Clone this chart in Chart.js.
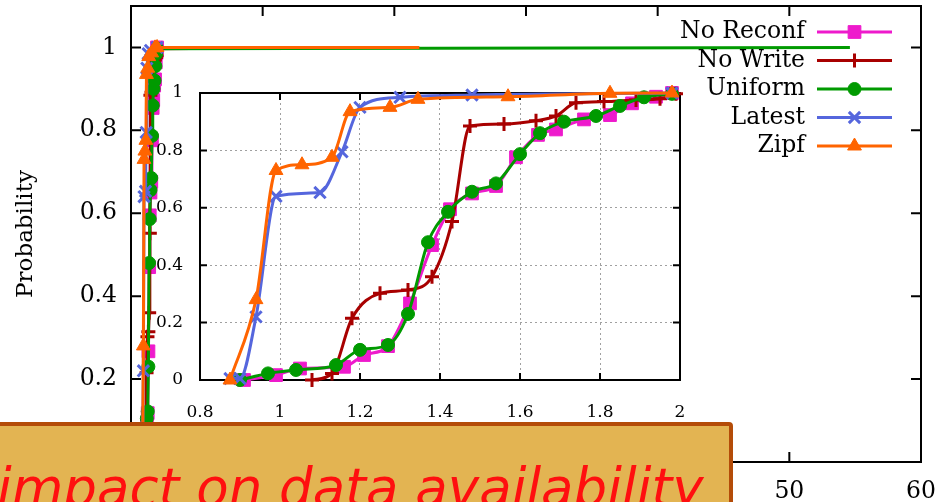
<!DOCTYPE html>
<html><head><meta charset="utf-8">
<script src="https://cdn.jsdelivr.net/npm/chart.js@4.4.0/dist/chart.umd.min.js"></script>
<style>
html,body{margin:0;padding:0;background:#fff;overflow:hidden;}
#wrap{position:relative;width:945px;height:502px;overflow:hidden;background:#fff;}
#main{position:absolute;left:0;top:0;}
#inset{position:absolute;left:140px;top:80px;}
#box{position:absolute;left:-8px;top:422px;width:741px;height:110px;box-sizing:border-box;border:4px solid #b44c08;border-radius:4px;background:#e3b452;}
#boxText{position:absolute;left:-3px;top:462px;font:italic 53px 'DejaVu Sans';line-height:52px;color:#ff0f0f;white-space:nowrap;}
</style>
</head><body>
<div id="wrap">
<canvas id="main" width="945" height="502"></canvas>
<canvas id="inset" width="560" height="350"></canvas>
<div id="box"></div>
<div id="boxText">impact on data availability</div>
</div>
<script>
// ---- data ----
const seriesNames = ['No Reconf', 'No Write', 'Uniform', 'Latest', 'Zipf'];

const noReconfX = [0.91, 0.99, 1.05, 1.16, 1.21, 1.27, 1.325, 1.38, 1.425, 1.48, 1.54, 1.59, 1.645, 1.69, 1.76, 1.825, 1.88, 1.94, 1.98];
const noReconfY = [0.0, 0.017, 0.04, 0.046, 0.087, 0.118, 0.267, 0.47, 0.595, 0.65, 0.676, 0.776, 0.854, 0.873, 0.908, 0.923, 0.964, 0.987, 1.0];

const noWriteX = [1.08, 1.13, 1.18, 1.25, 1.32, 1.38, 1.43, 1.475, 1.56, 1.64, 1.69, 1.74, 1.81, 1.89, 1.95, 1.99];
const noWriteY = [0.0, 0.023, 0.215, 0.302, 0.314, 0.36, 0.552, 0.885, 0.892, 0.903, 0.92, 0.966, 0.97, 0.976, 0.98, 0.997];

const uniformX = [0.90, 0.97, 1.04, 1.14, 1.20, 1.27, 1.32, 1.37, 1.42, 1.48, 1.54, 1.60, 1.65, 1.71, 1.79, 1.85, 1.91, 1.98];
const uniformY = [0.0, 0.023, 0.035, 0.052, 0.105, 0.122, 0.23, 0.48, 0.586, 0.656, 0.685, 0.787, 0.86, 0.9, 0.92, 0.955, 0.985, 0.997];

const latestX = [0.875, 0.90, 0.94, 0.99, 1.10, 1.155, 1.20, 1.30, 1.48, 1.98];
const latestY = [0.005, 0.005, 0.22, 0.64, 0.653, 0.795, 0.95, 0.985, 0.993, 1.0];

const zipfX = [0.875, 0.94, 0.99, 1.055, 1.13, 1.175, 1.275, 1.345, 1.57, 1.825, 1.98];
const zipfY = [0.0, 0.28, 0.73, 0.75, 0.776, 0.935, 0.95, 0.978, 0.987, 0.999, 1.0];

// where each CDF's tail (at probability 1) ends on the full-range plot
const tailEndX = [12, 15, 54.6, 10, 21.9];

// tick labels
const mainXTicks = [0, 10, 20, 30, 40, 50, 60];
const mainYTicks = [0, 0.2, 0.4, 0.6, 0.8, 1];
const insetXTicks = [0.8, 1, 1.2, 1.4, 1.6, 1.8, 2];
const insetYTicks = [0, 0.2, 0.4, 0.6, 0.8, 1];

// ---- styles ----
const colors = ['#ee1acc', '#a80000', '#009a00', '#5566dd', '#ff6400'];
const pStyles = ['rect', 'cross', 'circle', 'crossRot', 'triangle'];
const pRadius = [9, 7, 6.5, 8, 8];
const pBorder = [1, 3, 1, 3, 1];
const drawOrder = [5, 4, 3, 2, 1];

const allX = [noReconfX, noWriteX, uniformX, latestX, zipfX];
const allY = [noReconfY, noWriteY, uniformY, latestY, zipfY];

function pts(i, withTail) {
  const p = allX[i].map((x, k) => ({x: x, y: allY[i][k]}));
  if (withTail) p.push({x: tailEndX[i], y: 1});
  return p;
}

const serif = 'DejaVu Serif';

function noPad(s) {
  s.paddingTop = 0; s.paddingBottom = 0; s.paddingLeft = 0; s.paddingRight = 0;
}

const framePlugin = {
  id: 'frame',
  beforeDatasetsDraw(chart, args, opts) {
    const {ctx, chartArea: a} = chart;
    const xs = chart.scales.x, ys = chart.scales.y;
    ctx.save();
    ctx.strokeStyle = '#000';
    ctx.lineWidth = opts.lw;
    ctx.setLineDash([]);
    ctx.strokeRect(a.left, a.top, a.right - a.left, a.bottom - a.top);
    ctx.beginPath();
    xs.ticks.forEach(t => {
      const p = xs.getPixelForValue(t.value);
      ctx.moveTo(p, a.bottom); ctx.lineTo(p, a.bottom - opts.len);
      ctx.moveTo(p, a.top); ctx.lineTo(p, a.top + opts.len);
    });
    ys.ticks.forEach(t => {
      const p = ys.getPixelForValue(t.value);
      ctx.moveTo(a.left, p); ctx.lineTo(a.left + opts.len, p);
      ctx.moveTo(a.right, p); ctx.lineTo(a.right - opts.len, p);
    });
    ctx.stroke();
    ctx.restore();
  }
};

const legendPlugin = {
  id: 'keyBox',
  afterDraw(chart, args, opts) {
    const ctx = chart.ctx;
    ctx.save();
    ctx.font = opts.size + 'px "' + serif + '"';
    ctx.textAlign = 'right';
    ctx.textBaseline = 'middle';
    seriesNames.forEach((name, i) => {
      const y = opts.y0 + i * opts.dy;
      ctx.fillStyle = '#000';
      ctx.fillText(name, opts.textRight, y);
      ctx.strokeStyle = colors[i];
      ctx.lineWidth = 3;
      ctx.beginPath();
      ctx.moveTo(opts.l0, y); ctx.lineTo(opts.l1, y);
      ctx.stroke();
      ctx.fillStyle = colors[i];
      ctx.lineWidth = pBorder[i];
      Chart.helpers.drawPoint(ctx, {pointStyle: pStyles[i], radius: pRadius[i], rotation: 0, borderWidth: pBorder[i]}, (opts.l0 + opts.l1) / 2, y);
    });
    ctx.restore();
  }
};

function makeDatasets(withTail, smooth) {
  return seriesNames.map((name, i) => {
    const n = allX[i].length;
    return {
      label: name,
      data: pts(i, withTail),
      borderColor: colors[i],
      backgroundColor: colors[i],
      borderWidth: 3,
      pointStyle: pStyles[i],
      pointRadius: ctx => ctx.dataIndex < n ? pRadius[i] : 0,
      pointBorderWidth: pBorder[i],
      pointBorderColor: colors[i],
      pointBackgroundColor: colors[i],
      cubicInterpolationMode: smooth ? 'monotone' : 'default',
      tension: smooth ? 0.4 : 0,
      order: drawOrder[i],
      clip: false
    };
  });
}

// ---- main chart ----
new Chart(document.getElementById('main'), {
  type: 'line',
  data: {datasets: makeDatasets(true, false)},
  options: {
    responsive: false, animation: false, devicePixelRatio: 1,
    layout: {autoPadding: false, padding: {left: 0, top: 6, right: 24, bottom: 0}},
    plugins: {
      legend: {display: false}, tooltip: {enabled: false},
      frame: {lw: 2, len: 10},
      keyBox: {size: 23.5, textRight: 805, l0: 817, l1: 892, y0: 32, dy: 28.5}
    },
    scales: {
      x: {
        type: 'linear', min: 0, max: 60,
        afterBuildTicks: s => { s.ticks = mainXTicks.map(v => ({value: v})); },
        afterFit: s => { s.height = 40; noPad(s); },
        grid: {display: false, drawTicks: false},
        border: {display: false},
        ticks: {padding: 16, color: '#000', font: {family: serif, size: 23.5}, callback: v => String(v), maxRotation: 0, autoSkip: false}
      },
      y: {
        type: 'linear', min: 0, max: 1.1,
        afterBuildTicks: s => { s.ticks = mainYTicks.map(v => ({value: v})); },
        afterFit: s => { s.width = 131; noPad(s); },
        grid: {display: false, drawTicks: false},
        border: {display: false},
        ticks: {padding: 14, color: '#000', font: {family: serif, size: 23.5}, callback: v => String(v), autoSkip: false},
        title: {display: true, text: 'Probability', color: '#000', font: {family: serif, size: 23}, padding: {top: 12, bottom: 0}}
      }
    }
  },
  plugins: [framePlugin, legendPlugin]
});

// ---- inset chart ----
new Chart(document.getElementById('inset'), {
  type: 'line',
  data: {datasets: makeDatasets(false, true)},
  options: {
    responsive: false, animation: false, devicePixelRatio: 1,
    layout: {autoPadding: false, padding: {left: 0, top: 13, right: 20, bottom: 0}},
    plugins: {
      legend: {display: false}, tooltip: {enabled: false},
      frame: {lw: 2, len: 7}
    },
    scales: {
      x: {
        type: 'linear', min: 0.8, max: 2,
        afterBuildTicks: s => { s.ticks = insetXTicks.map(v => ({value: v})); },
        afterFit: s => { s.height = 50; noPad(s); },
        grid: {display: true, drawTicks: false, color: '#a0a0a0', lineWidth: 1},
        border: {display: false, dash: [2, 3]},
        ticks: {padding: 22, color: '#000', font: {family: serif, size: 17}, callback: v => String(v), maxRotation: 0, autoSkip: false}
      },
      y: {
        type: 'linear', min: 0, max: 1,
        afterBuildTicks: s => { s.ticks = insetYTicks.map(v => ({value: v})); },
        afterFit: s => { s.width = 60; noPad(s); },
        grid: {display: true, drawTicks: false, color: '#a0a0a0', lineWidth: 1},
        border: {display: false, dash: [2, 3]},
        ticks: {padding: 17, color: '#000', font: {family: serif, size: 17}, callback: v => String(v), autoSkip: false}
      }
    }
  },
  plugins: [framePlugin]
});
</script>
</body></html>
